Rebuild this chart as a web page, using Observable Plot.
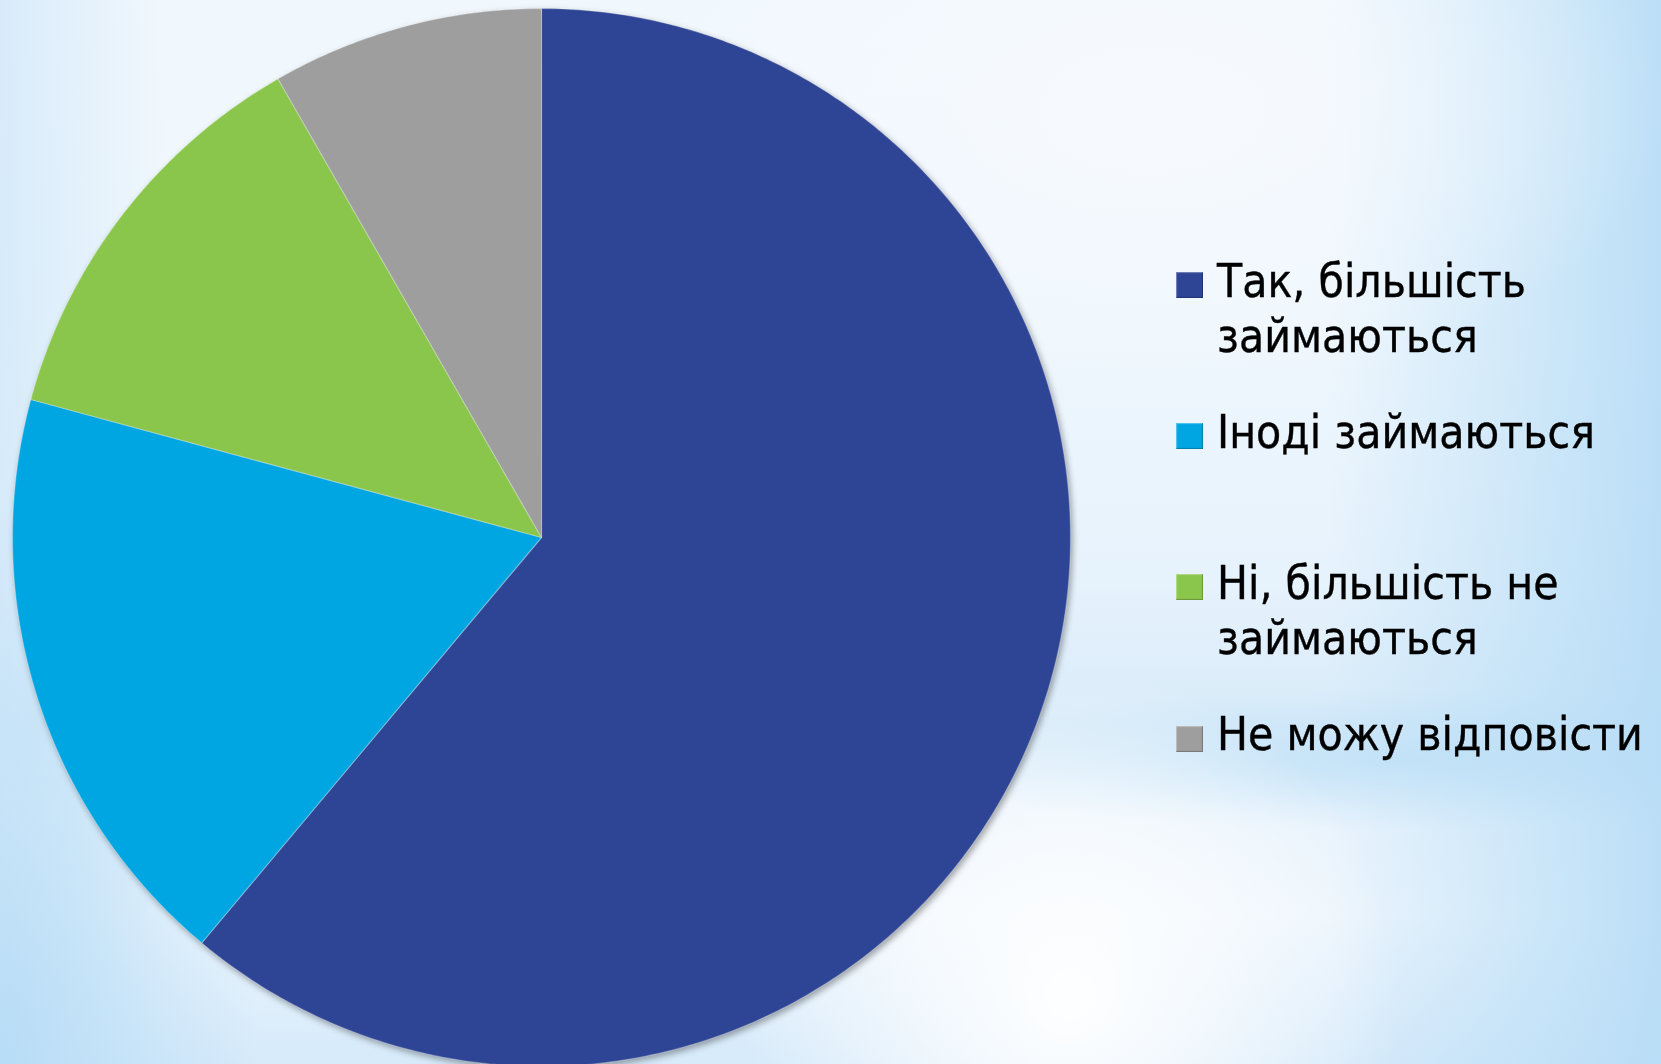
<!DOCTYPE html>
<html>
<head>
<meta charset="utf-8">
<script src="https://cdn.jsdelivr.net/npm/d3@7"></script>
<script src="https://cdn.jsdelivr.net/npm/@observablehq/plot@0.6"></script>
<style>
  html, body { margin: 0; padding: 0; width: 1661px; height: 1064px; overflow: hidden; }
  body {
    position: relative;
    background:
      radial-gradient(ellipse 330px 330px at 1070px 1000px, rgba(255,255,255,0.97) 0%, rgba(255,255,255,0.6) 45%, rgba(255,255,255,0) 100%),
      radial-gradient(ellipse 520px 280px at 1150px 110px, rgba(247,250,255,0.85) 0%, rgba(247,250,255,0) 100%),
      radial-gradient(ellipse 260px 560px at 0px 1064px, rgba(182,220,246,0.95) 0%, rgba(182,220,246,0) 100%),
      linear-gradient(to right, rgba(210,232,249,0.8) 0%, rgba(210,232,249,0) 10%, rgba(210,232,249,0) 80%, rgba(182,220,246,0.9) 100%),
      radial-gradient(ellipse 520px 70px at 1400px 760px, rgba(190,224,247,0.8) 0%, rgba(190,224,247,0) 100%),
      linear-gradient(to bottom, #f1f8fd 0%, #eff7fd 30%, #e6f2fc 55%, #d8ebf9 68%, #e8f3fc 76%, #ecf5fd 86%, #d6eafa 100%);
  }
  #chart { position: absolute; left: 0; top: 0; }
  .legend { position: absolute; left: 0; top: 0; font-family: "DejaVu Sans", Verdana, sans-serif; color: #000; }
  .sw { position: absolute; width: 27px; height: 26px; box-shadow: inset -1px -1px 1px rgba(0,0,0,0.25), inset 1px 1px 1px rgba(255,255,255,0.35); }
  .lbl { position: absolute; white-space: nowrap; transform-origin: 0 0; line-height: 1; }
</style>
</head>
<body>
<div id="chart"></div>
<div class="legend" id="legend"></div>
<script>
// ---- data ----
const categories = ["Так, більшість займаються", "Іноді займаються", "Ні, більшість не займаються", "Не можу відповісти"];
const values = [61.1, 18.1, 12.5, 8.3];
const colors = ["#2E4494", "#00A6E2", "#8BC64C", "#9E9E9E"];
const legendLines = [["Так, більшість", "займаються"], ["Іноді займаються"], ["Ні, більшість не", "займаються"], ["Не можу відповісти"]];

// ---- pie geometry via d3.pie (angles clockwise from 12 o'clock) ----
const arcs = d3.pie().sort(null).value(d => d)(values);
const features = arcs.map((a, i) => {
  const n = Math.max(8, Math.ceil((a.endAngle - a.startAngle) / 0.01));
  const ring = [[0, 0]];
  for (let k = 0; k <= n; k++) {
    const t = a.startAngle + (a.endAngle - a.startAngle) * k / n;
    ring.push([Math.sin(t), -Math.cos(t)]);
  }
  ring.push([0, 0]);
  return {type: "Feature", properties: {category: categories[i], value: values[i]}, geometry: {type: "Polygon", coordinates: [ring]}};
});

const plot = Plot.plot({
  width: 1661,
  height: 1066,
  marginLeft: 12,
  marginTop: 8,
  marginRight: 591,
  marginBottom: 0,
  style: {background: "transparent", overflow: "visible"},
  projection: {type: "identity", domain: {type: "MultiPoint", coordinates: [[-1, -1], [1, 1]]}},
  color: {domain: categories, range: colors},
  marks: [
    Plot.geo(features, {
      fill: d => d.properties.category,
      stroke: "rgba(255,255,255,0.28)",
      strokeWidth: 1.2,
      strokeLinejoin: "round"
    })
  ]
});
document.getElementById("chart").appendChild(plot);
d3.select(plot).selectAll("g[aria-label='geo']").style("filter", "drop-shadow(2px 3px 3px rgba(0,0,0,0.35))");

// ---- legend ----
const legend = document.getElementById("legend");
const swatchY = [272, 423, 574, 726];
const firstBaseline = [301, 452, 603, 754];
const lineGap = 55;
const fontSize = 46;
const cv = document.createElement("canvas").getContext("2d");
cv.font = `${fontSize}px "DejaVu Sans"`;
const targetW = 378;
const sx = targetW / cv.measureText(legendLines[1][0]).width;
legendLines.forEach((lines, i) => {
  const sw = document.createElement("div");
  sw.className = "sw";
  sw.style.left = "1176px";
  sw.style.top = swatchY[i] + "px";
  sw.style.background = colors[i];
  legend.appendChild(sw);
  lines.forEach((txt, j) => {
    const el = document.createElement("div");
    el.className = "lbl";
    el.textContent = txt;
    el.style.fontSize = fontSize + "px";
    el.style.left = "1217px";
    el.style.top = (firstBaseline[i] + j * lineGap - fontSize * 0.93) + "px";
    el.style.transform = `scaleX(${sx})`;
    el.style.webkitTextStroke = "0.4px #000";
    legend.appendChild(el);
  });
});
</script>
</body>
</html>
